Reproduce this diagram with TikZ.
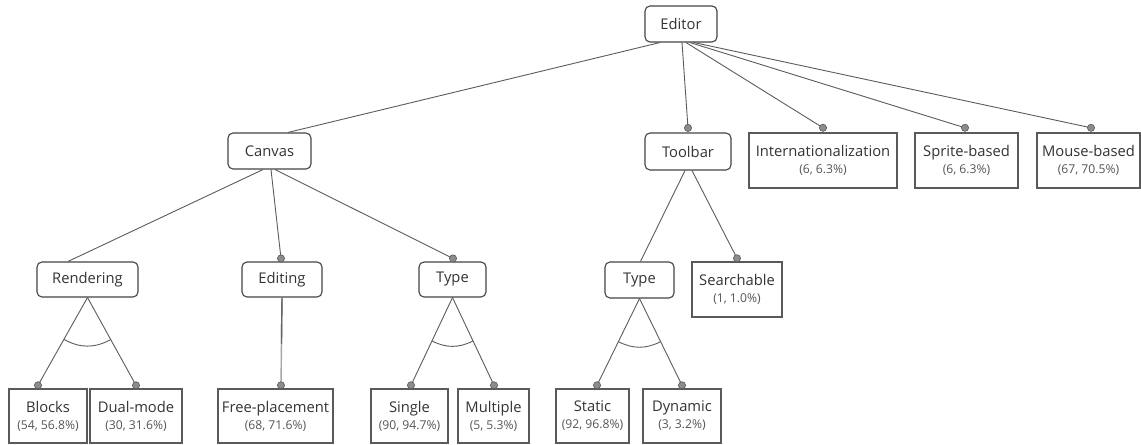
\documentclass[tikz,border=0pt]{standalone}
\usepackage{fontspec}
\setmainfont{Open Sans}
\usetikzlibrary{calc}
\definecolor{txt}{HTML}{333333}
\definecolor{cnt}{HTML}{555555}
\definecolor{bord}{HTML}{444444}
\definecolor{lbord}{HTML}{5A5A5A}
\definecolor{edgec}{HTML}{5C5C5C}
\newcommand{\mainfs}{\fontsize{14.8}{17}\selectfont}
\newcommand{\cntfs}{\fontsize{12.2}{17}\selectfont\color{cnt}}
\tikzset{
  fnode/.style={draw=bord, line width=1.1bp, rounded corners=5bp, minimum height=36bp, inner sep=0pt, text=txt, font=\mainfs},
  leaf/.style={draw=lbord, line width=1.4bp, minimum height=54bp, inner sep=0pt, align=center, text=txt, font=\mainfs},
  edge/.style={draw=edgec, line width=0.9bp},
  dotc/.style={fill=black!45, draw=black!65, line width=0.6bp},
}
\begin{document}
\begin{tikzpicture}[x=1bp,y=-1bp]
\useasboundingbox (0,0) rectangle (1141,445);
\fill[white] (0,0) rectangle (1141,445);
% feature nodes
\node[fnode, minimum width=72bp] (editor) at (681,24) {Editor};
\node[fnode, minimum width=83bp] (canvas) at (269.5,151) {Canvas};
\node[fnode, minimum width=86bp, minimum height=37bp] (toolbar) at (688,151.5) {Toolbar};
\node[fnode, minimum width=101bp, minimum height=35bp] (rendering) at (87.5,279.5) {Rendering};
\node[fnode, minimum width=80bp, minimum height=35bp] (editing) at (282,279.5) {Editing};
\node[fnode, minimum width=67bp, minimum height=35bp] (type1) at (452.5,279.5) {Type};
\node[fnode, minimum width=69bp, minimum height=36bp] (type2) at (639.5,280) {Type};
% leaves
\node[leaf, minimum width=148bp, minimum height=55bp] (intl) at (823,160.5) {Internationalization\\\cntfs (6, 6.3\%)};
\node[leaf, minimum width=103bp, minimum height=55bp] (sprite) at (966.5,160.5) {Sprite-based\\\cntfs (6, 6.3\%)};
\node[leaf, minimum width=103bp, minimum height=55bp] (mouse) at (1088.5,160.5) {Mouse-based\\\cntfs (67, 70.5\%)};
\node[leaf, minimum width=90bp, minimum height=55bp] (search) at (737,289.5) {Searchable\\\cntfs (1, 1.0\%)};
\node[leaf, minimum width=78bp] (blocks) at (48,416) {Blocks\\\cntfs (54, 56.8\%)};
\node[leaf, minimum width=92bp] (dual) at (136,416) {Dual-mode\\\cntfs (30, 31.6\%)};
\node[leaf, minimum width=115bp] (free) at (275.5,416) {Free-placement\\\cntfs (68, 71.6\%)};
\node[leaf, minimum width=77bp] (single) at (409.5,416) {Single\\\cntfs (90, 94.7\%)};
\node[leaf, minimum width=71bp] (multiple) at (493.5,416) {Multiple\\\cntfs (5, 5.3\%)};
\node[leaf, minimum width=73bp] (static) at (592.5,416) {Static\\\cntfs (92, 96.8\%)};
\node[leaf, minimum width=78bp] (dynamic) at (682,416) {Dynamic\\\cntfs (3, 3.2\%)};
% dot coordinates
\coordinate (dToolbar) at ($(toolbar.north)+(0,-4.5)$);
\coordinate (dIntl) at ($(intl.north)+(0,-4.5)$);
\coordinate (dSprite) at ($(sprite.north)+(-1.5,-4.5)$);
\coordinate (dMouse) at ($(mouse.north)+(2.5,-4.5)$);
\coordinate (dEditing) at ($(editing.north)+(-1,-3)$);
\coordinate (dType1) at ($(type1.north)+(0.5,-3)$);
\coordinate (dSearch) at ($(search.north)+(0,-3)$);
\coordinate (dBlocks) at ($(blocks.north)+(-10,-3)$);
\coordinate (dDual) at ($(dual.north)+(0,-3)$);
\coordinate (dFree) at ($(free.north)+(5.5,-3)$);
\coordinate (dSingle) at ($(single.north)+(1.5,-3)$);
\coordinate (dMultiple) at ($(multiple.north)+(0.5,-3)$);
\coordinate (dStatic) at ($(static.north)+(4.5,-3)$);
\coordinate (dDynamic) at ($(dynamic.north)+(0,-3)$);
% edges from Editor
\draw[edge] ($(editor.south)+(-21,0)$) -- ($(canvas.north)+(18.5,0)$);
\draw[edge] ($(editor.south)+(1,0)$) -- (dToolbar);
\draw[edge] ($(editor.south)+(5,0)$) -- (dIntl);
\draw[edge] ($(editor.south)+(9,0)$) -- (dSprite);
\draw[edge] ($(editor.south)+(13,0)$) -- (dMouse);
% edges from Canvas
\draw[edge] ($(canvas.south)+(-6.5,0)$) -- ($(rendering.north)+(-19.5,0)$);
\draw[edge] ($(canvas.south)+(1.5,0)$) -- (dEditing);
\draw[edge] ($(canvas.south)+(5.5,0)$) -- (dType1);
% edges from Toolbar
\draw[edge] ($(toolbar.south)+(-3,0)$) -- ($(type2.north)+(1,0)$);
\draw[edge] ($(toolbar.south)+(4,0)$) -- (dSearch);
% Rendering group
\draw[edge] (rendering.south) -- (dBlocks);
\draw[edge] (rendering.south) -- (dDual);
\draw[edge] ($(rendering.south)!48bp!(dBlocks)$) to[bend right=29] ($(rendering.south)!48bp!(dDual)$);
% Editing mandatory
\draw[draw=black!35, line width=1.4bp] (editing.south) -- (dFree);
\draw[draw=black!60, line width=1.4bp] (editing.south) -- ($(editing.south)!0.53!(dFree)$);
% Type1 group
\draw[edge] (type1.south) -- (dSingle);
\draw[edge] (type1.south) -- (dMultiple);
\draw[edge] ($(type1.south)!48bp!(dSingle)$) to[bend right=27] ($(type1.south)!48bp!(dMultiple)$);
% Type2 group
\draw[edge] (type2.south) -- (dStatic);
\draw[edge] (type2.south) -- (dDynamic);
\draw[edge] ($(type2.south)!48bp!(dStatic)$) to[bend right=27] ($(type2.south)!48bp!(dDynamic)$);
% dots
\foreach \d in {dToolbar,dIntl,dSprite,dMouse,dEditing,dType1,dSearch,dBlocks,dDual,dFree,dSingle,dMultiple,dStatic,dDynamic}
  \draw[dotc] (\d) circle (3.6bp);
\end{tikzpicture}
\end{document}
